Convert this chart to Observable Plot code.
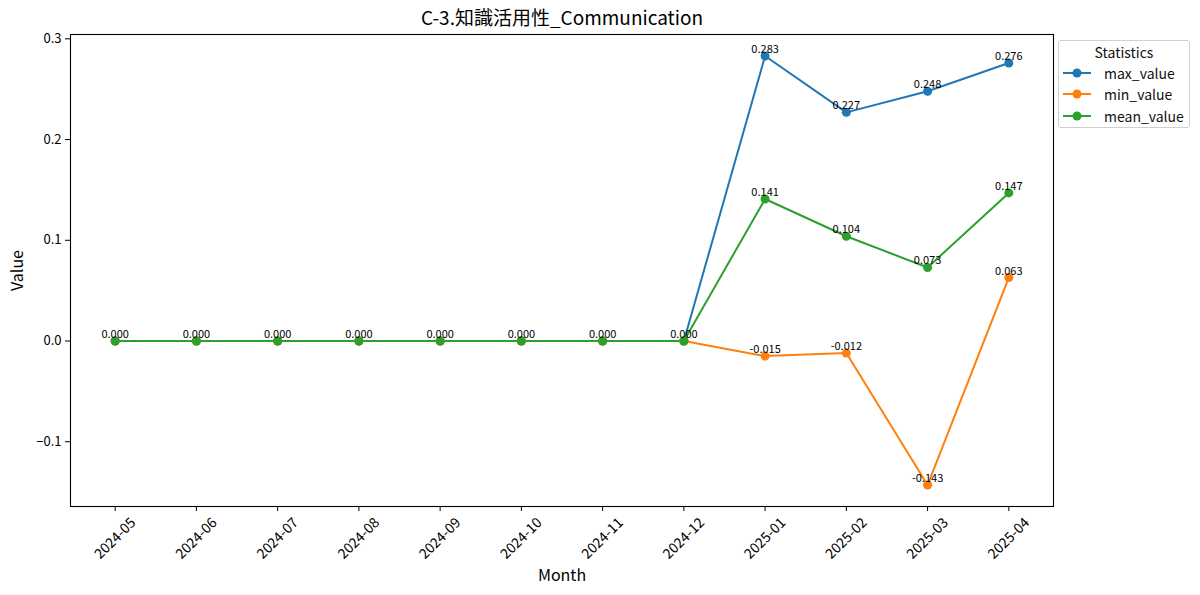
<!DOCTYPE html>
<html><head><meta charset="utf-8">
<script src="https://cdn.jsdelivr.net/npm/d3@7"></script>
<script src="https://cdn.jsdelivr.net/npm/@observablehq/plot@0.6"></script>
<style>
body{margin:0;background:#fff;font-family:"Noto Sans CJK JP","Noto Sans",sans-serif;}
#wrap{position:relative;width:1200px;height:595px;overflow:hidden;}
#legend{position:absolute;left:1058px;top:40px;width:132px;height:88px;border:1px solid #d0d0d0;border-radius:3px;background:#fff;box-sizing:border-box;font-size:14px;color:#111;}
#legend .t{text-align:center;margin-top:1px;line-height:20px;}
#legend .r{display:flex;align-items:center;height:21.5px;padding-left:4px;}
#legend svg{margin-right:13px;}
</style></head>
<body><div id="wrap"><div id="chart"></div><div id="legend"></div></div>
<script>
const months = ["2024-05","2024-06","2024-07","2024-08","2024-09","2024-10","2024-11","2024-12","2025-01","2025-02","2025-03","2025-04"];
const maxValues  = [0,0,0,0,0,0,0,0,0.283,0.227,0.248,0.276];
const minValues  = [0,0,0,0,0,0,0,0,-0.015,-0.012,-0.143,0.063];
const meanValues = [0,0,0,0,0,0,0,0,0.141,0.104,0.073,0.147];
const seriesNames = ["max_value","min_value","mean_value"];
const seriesColors = ["#1f77b4","#ff7f0e","#2ca02c"];
const yTicks = [-0.1,0,0.1,0.2,0.3];
const titleText = "C-3.知識活用性_Communication";

const seriesValues = [maxValues, minValues, meanValues];
const data = [];
seriesNames.forEach((s,i)=>months.forEach((m,j)=>data.push({series:s, month:m, value:seriesValues[i][j]})));
// one label per distinct position (identical overlapping labels drawn once)
const seen = new Set();
const labels = data.filter(d=>{const k=d.month+"|"+d.value; if(seen.has(k)) return false; seen.add(k); return true;});

const W=1200,H=595,ML=70,MR=147,MT=34,MB=89;
const chart = Plot.plot({
  width:W, height:H, marginLeft:ML, marginRight:MR, marginTop:MT, marginBottom:MB,
  style:{fontFamily:'"Noto Sans CJK JP","Noto Sans",sans-serif', fontSize:"13px", color:"#000", background:"#fff"},
  x:{type:"point", domain:months, padding:0.55, round:false, tickSize:5, tickFormat:()=>"", label:"Month", labelAnchor:"center", labelOffset:74},
  y:{domain:[-0.1643,0.3043], ticks:yTicks, tickFormat:d3.format(".1f"), tickSize:5, label:"Value", labelAnchor:"center", labelOffset:59},
  color:{domain:seriesNames, range:seriesColors},
  marks:[
    Plot.frame({stroke:"#000", strokeWidth:1.1}),
    Plot.line(data,{x:"month", y:"value", z:"series", stroke:"series", strokeWidth:2}),
    Plot.dot(data,{x:"month", y:"value", fill:"series", r:4.5}),
    Plot.text(labels,{x:"month", y:"value", text:d=>d3.format(".3f")(d.value).replace("−","-"), lineAnchor:"bottom", dy:-3, fontSize:11, fill:"#000"}),
    Plot.text(months,{x:d=>d, frameAnchor:"bottom", rotate:-45, dy:32, textAnchor:"middle", lineAnchor:"middle", fontSize:14, fill:"#000"}),
    Plot.text([titleText],{frameAnchor:"top", dy:-16, text:d=>d, lineAnchor:"middle", fontSize:19, fill:"#000"})
  ]
});
chart.querySelectorAll('[aria-label="x-axis label"] text, [aria-label="y-axis label"] text').forEach(t=>{
  t.style.fontSize="16px";
  t.textContent = t.textContent.replace(/\s*[→←↑↓]\s*/g,"");
});
document.getElementById("chart").appendChild(chart);

const lg = document.getElementById("legend");
let html = '<div class="t">Statistics</div>';
seriesNames.forEach((s,i)=>{
  html += `<div class="r"><svg width="28" height="12"><line x1="0" y1="6" x2="28" y2="6" stroke="${seriesColors[i]}" stroke-width="2"/><circle cx="14" cy="6" r="4.5" fill="${seriesColors[i]}"/></svg><span>${s}</span></div>`;
});
lg.innerHTML = html;
</script>
</body></html>
